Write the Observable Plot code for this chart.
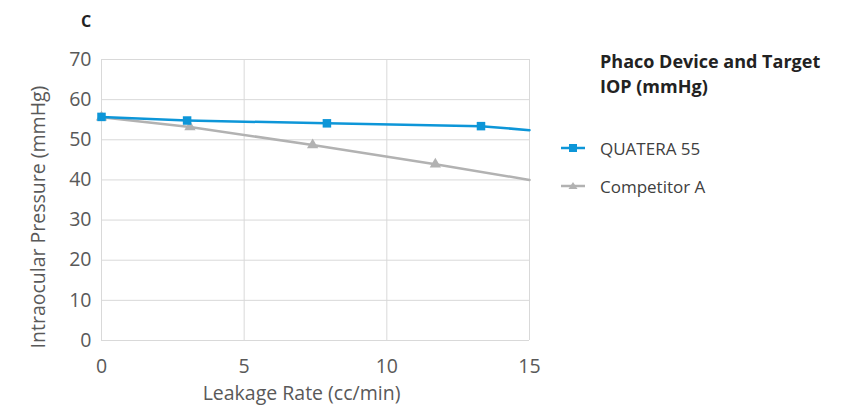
<!DOCTYPE html>
<html><head><meta charset="utf-8">
<script src="https://cdn.jsdelivr.net/npm/d3@7"></script>
<script src="https://cdn.jsdelivr.net/npm/@observablehq/plot@0.6"></script>
<style>
body{margin:0;background:#fff;font-family:"Open Sans",sans-serif}
#wrap{position:relative;width:852px;height:408px;overflow:hidden}
#panel{position:absolute;left:81px;top:10px;font-weight:bold;font-size:16px;color:#222}
#legend{position:absolute;left:560px;top:49px;color:#404040}
#legend .title{font-weight:bold;font-size:18px;line-height:25px;margin-left:40px;color:#222;white-space:nowrap}
#legend .item{display:flex;align-items:center;font-size:17px;height:38px}
#legend .item svg{margin-right:14px}
</style></head><body>
<div id="wrap"><div id="panel">C</div></div>
<script>
const seriesNames = ["QUATERA 55", "Competitor A"];
const quateraX = [0, 3, 7.9, 13.3, 15];
const quateraY = [55.7, 54.8, 54.1, 53.4, 52.4];
const quateraMarker = [true, true, true, true, false];
const compX = [0, 3.1, 7.4, 11.7, 15];
const compY = [55.6, 53.2, 48.7, 43.9, 40.0];
const compMarker = [true, true, true, true, false];
const xTicks = [0, 5, 10, 15];
const yTicks = [0, 10, 20, 30, 40, 50, 60, 70];
const xLabel = "Leakage Rate (cc/min)";
const yLabel = "Intraocular Pressure (mmHg)";
const colors = ["#0D96D8", "#B2B2B2"];

const q = quateraX.map((x, i) => ({x, y: quateraY[i], m: quateraMarker[i]}));
const c = compX.map((x, i) => ({x, y: compY[i], m: compMarker[i]}));

const plot = Plot.plot({
  width: 852, height: 408,
  marginLeft: 101, marginRight: 323, marginTop: 59, marginBottom: 68,
  style: {fontFamily: "'Open Sans', sans-serif", fontSize: "19px", color: "#595959", background: "#fff"},
  x: {domain: [0, 15]},
  y: {domain: [0, 70]},
  marks: [
    Plot.gridX(xTicks, {stroke: "#d9d9d9", strokeOpacity: 1, strokeWidth: 1}),
    Plot.gridY(yTicks, {stroke: "#d9d9d9", strokeOpacity: 1, strokeWidth: 1}),
    Plot.axisX({ticks: xTicks, tickSize: 0, tickPadding: 19, label: null, fill: "#595959", fontSize: 19.5}),
    Plot.axisY({ticks: yTicks, tickSize: 0, tickPadding: 10, label: null, fill: "#595959", fontSize: 19.5}),
    Plot.text([xLabel], {text: d => d, frameAnchor: "bottom", lineAnchor: "middle", dx: -14, dy: 53, fill: "#595959", fontSize: 19.5}),
    Plot.text([yLabel], {text: d => d, frameAnchor: "left", rotate: -90, textAnchor: "middle", lineAnchor: "middle", dx: -63, dy: 17, fill: "#595959", fontSize: 19.5}),
    Plot.line(c, {x: "x", y: "y", stroke: colors[1], strokeWidth: 2.5}),
    Plot.dot(c.filter(d => d.m), {x: "x", y: "y", symbol: "triangle", r: 4.2, fill: colors[1]}),
    Plot.line(q, {x: "x", y: "y", stroke: colors[0], strokeWidth: 2.5}),
    Plot.dot(q.filter(d => d.m), {x: "x", y: "y", symbol: "square", r: 4.8, fill: colors[0]})
  ]
});
document.getElementById("wrap").appendChild(plot);

const leg = document.createElement("div");
leg.id = "legend";
leg.innerHTML = `<div class="title">Phaco Device and Target<br>IOP (mmHg)</div><div style="height:30px"></div>` +
  seriesNames.map((n, i) => `<div class="item"><svg width="26" height="12"><line x1="1" x2="25" y1="6" y2="6" stroke="${colors[i]}" stroke-width="2.5"/>${i === 0 ? `<rect x="9" y="2" width="8" height="8" fill="${colors[i]}"/>` : `<path d="M13,2 L17.5,9 L8.5,9 Z" fill="${colors[i]}"/>`}</svg>${n}</div>`).join("");
document.getElementById("wrap").appendChild(leg);
</script>
</body></html>
